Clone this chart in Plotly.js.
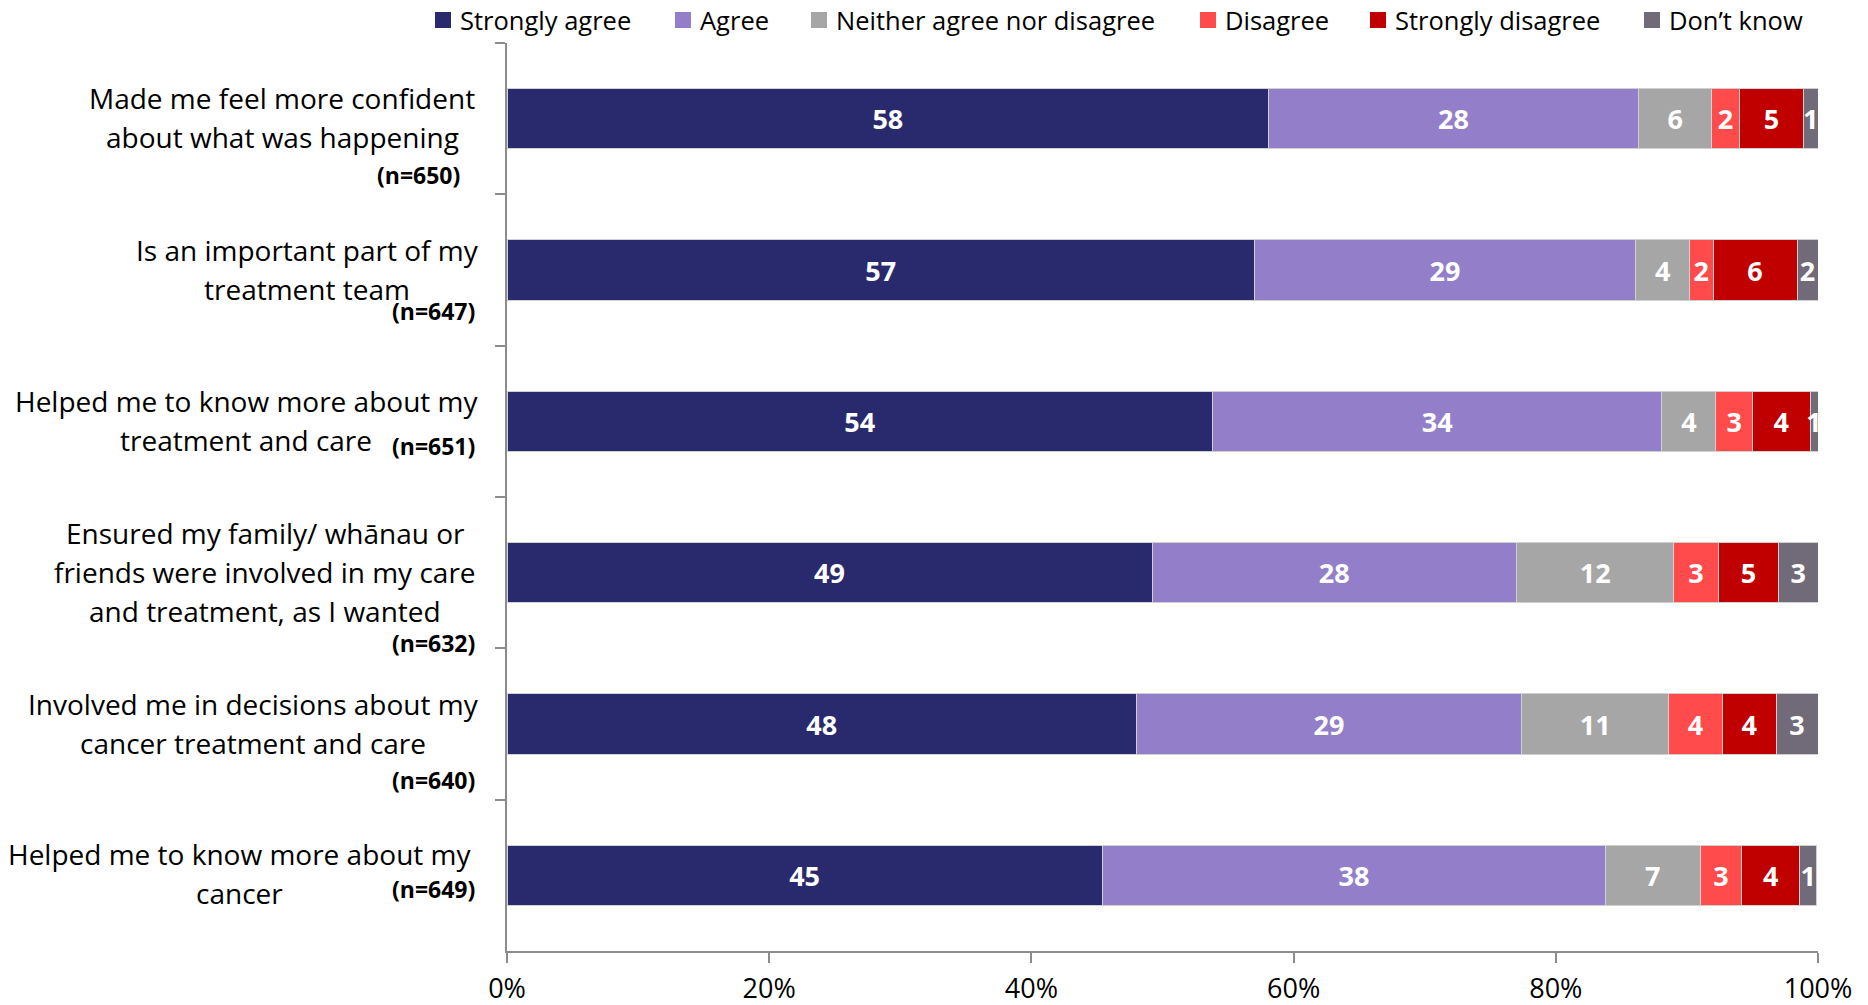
<!DOCTYPE html>
<html>
<head>
<meta charset="utf-8">
<script src="https://cdn.plot.ly/plotly-3.0.1.min.js"></script>
<style>html,body{margin:0;padding:0;background:#fff;}#chart{width:1868px;height:1005px;}</style>
</head>
<body>
<div id="chart"></div>
<script>
// ---- data ----
const categories = [
  "Made me feel more confident<br>about what was happening",
  "Is an important part of my<br>treatment team",
  "Helped me to know more about my<br>treatment and care",
  "Ensured my family/ whānau or<br>friends were involved in my care<br>and treatment, as I wanted",
  "Involved me in decisions about my<br>cancer treatment and care",
  "Helped me to know more about my<br>cancer"
];
const sampleSizes = ["(n=650)", "(n=647)", "(n=651)", "(n=632)", "(n=640)", "(n=649)"];
const seriesNames = ["Strongly agree", "Agree", "Neither agree nor disagree", "Disagree", "Strongly disagree", "Don’t know"];
const stronglyAgree    = [58.1, 57.0, 53.8, 49.2, 48.0, 45.4];
const agree            = [28.2, 29.1, 34.3, 27.8, 29.4, 38.4];
const neither          = [5.6, 4.1, 4.1, 12.0, 11.2, 7.2];
const disagree         = [2.1, 1.8, 2.8, 3.4, 4.1, 3.2];
const stronglyDisagree = [4.9, 6.4, 4.4, 4.6, 4.1, 4.4];
const dontKnow         = [1.1, 1.6, 0.6, 3.0, 3.2, 1.3];
const xTickVals   = [0, 20, 40, 60, 80, 100];
const xTickLabels = ["0%", "20%", "40%", "60%", "80%", "100%"];

// ---- style ----
const colors = ["#29296E", "#937FC9", "#A6A6A6", "#FF4B4B", "#C00000", "#716B79"];
const W = 1868, H = 1005;
const M = {l: 507, r: 50, t: 43, b: 54};
const plotW = W - M.l - M.r;
const plotH = H - M.t - M.b;
const axisColor = "#8C8C8C";
const FONT = "Open Sans, Noto Sans, sans-serif";
const px2paperX = px => (px - M.l) / plotW;
const px2paperY = py => (H - M.b - py) / plotH;

// label block centres (px) and n-label placement (right edge px, offset below bar centre px)
const labelCenterX = [282, 307, 246, 265, 253, 239];
const labelShiftY = [1, 1, 1, 1, 1, 2];
const nRightX = [462, 477, 477, 477, 477, 477];
const nOffsetY = [56, 41, 25, 70, 56, 14];
const lineSpacing = 39;

// legend placement (px): swatch left edges, swatch size, centre y, text gap
const legendSwatchX = [435, 675, 811, 1200, 1370, 1644];
const legendSwatch = 16;
const legendY = 20;
const legendTextGap = 23;

const allSeries = [stronglyAgree, agree, neither, disagree, stronglyDisagree, dontKnow];
const traces = allSeries.map((vals, i) => ({
  type: "bar",
  orientation: "h",
  name: seriesNames[i],
  x: vals,
  y: categories,
  marker: {color: colors[i], line: {color: "#D0D0D0", width: 1}},
  texttemplate: "%{x:.0f}",
  textposition: "inside",
  insidetextanchor: "middle",
  textangle: 0,
  constraintext: "none",
  cliponaxis: false,
  textfont: {family: FONT, size: 27, color: "#FFFFFF", weight: "bold"},
  hoverinfo: "x+name",
  showlegend: false
}));

const annotations = [];
const shapes = [];
categories.forEach((cat, ci) => {
  const lines = cat.split("<br>");
  const n = lines.length;
  lines.forEach((ln, li) => {
    annotations.push({
      xref: "paper", yref: "y",
      x: px2paperX(labelCenterX[ci]), y: cat,
      xanchor: "center", yanchor: "middle",
      yshift: -((li - (n - 1) / 2) * lineSpacing) + labelShiftY[ci],
      text: ln, showarrow: false,
      font: {family: FONT, size: 28, color: "#000000"}
    });
  });
  annotations.push({
    xref: "paper", yref: "y",
    x: px2paperX(nRightX[ci]), y: cat,
    xanchor: "right", yanchor: "middle",
    yshift: -nOffsetY[ci],
    text: sampleSizes[ci], showarrow: false,
    font: {family: FONT, size: 23, color: "#000000", weight: "bold"}
  });
});

// legend (drawn as swatches + text)
seriesNames.forEach((name, i) => {
  const x0 = legendSwatchX[i];
  shapes.push({
    type: "rect", xref: "paper", yref: "paper",
    x0: px2paperX(x0), x1: px2paperX(x0 + legendSwatch),
    y0: px2paperY(legendY + legendSwatch / 2), y1: px2paperY(legendY - legendSwatch / 2),
    fillcolor: colors[i], line: {width: 0}
  });
  annotations.push({
    xref: "paper", yref: "paper",
    x: px2paperX(x0 + legendTextGap), y: px2paperY(legendY),
    xanchor: "left", yanchor: "middle",
    text: name, showarrow: false,
    font: {family: FONT, size: 25.5, color: "#000000"}
  });
});

const layout = {
  width: W, height: H,
  margin: M,
  barmode: "stack",
  bargap: 0.6,
  paper_bgcolor: "#FFFFFF",
  plot_bgcolor: "#FFFFFF",
  font: {family: FONT, color: "#000000"},
  showlegend: false,
  xaxis: {
    range: [0, 100],
    tickmode: "array",
    tickvals: xTickVals,
    ticktext: xTickLabels,
    showgrid: false, zeroline: false,
    showline: true, linecolor: axisColor, linewidth: 1.5,
    ticks: "outside", ticklen: 10, tickcolor: axisColor, tickwidth: 1.5,
    ticklabelstandoff: 3,
    tickfont: {family: FONT, size: 27, color: "#000000"}
  },
  yaxis: {
    type: "category",
    categoryorder: "array", categoryarray: categories,
    autorange: "reversed",
    showticklabels: false,
    showgrid: false, zeroline: false,
    showline: true, linecolor: axisColor, linewidth: 1.5,
    ticks: "outside", tickson: "boundaries", ticklen: 10, tickcolor: axisColor, tickwidth: 1.5
  },
  shapes: shapes,
  annotations: annotations
};

Plotly.newPlot("chart", traces, layout, {displayModeBar: false, responsive: false});
</script>
</body>
</html>
